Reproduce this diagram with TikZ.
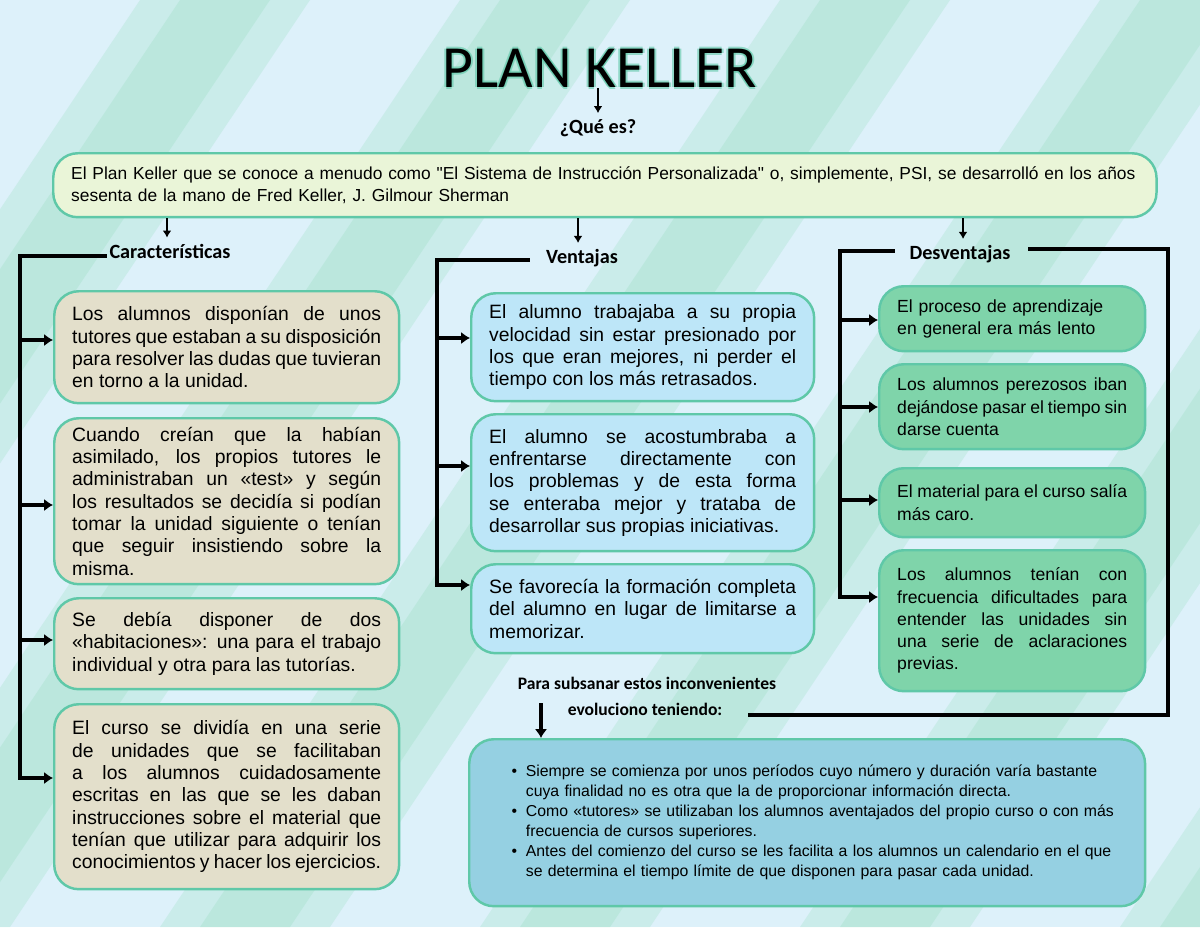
\documentclass[tikz,border=0pt]{standalone}
\usepackage{fontspec}
\usepackage{enumitem}
\setmainfont{Liberation Sans}
\newfontfamily\carlitofont{Carlito}
\usetikzlibrary{arrows.meta}
\definecolor{bgblue}{HTML}{DDF1FA}
\definecolor{bggreen}{HTML}{A9E3CF}
\definecolor{edge}{HTML}{5FC8A8}
\definecolor{mainf}{HTML}{EAF5D8}
\definecolor{leftf}{HTML}{E3DFCB}
\definecolor{midf}{HTML}{BDE6F8}
\definecolor{rightf}{HTML}{7FD4AA}
\definecolor{botf}{HTML}{95D0E2}
\hyphenpenalty=10000 \exhyphenpenalty=10000
\begin{document}
\begin{tikzpicture}[x=0.02cm,y=-0.02cm,
  card/.style={draw=edge,line width=1.4pt,rounded corners=14pt,anchor=north west,inner xsep=0.36cm,inner ysep=0.12cm,align=justify,font=\fontsize{9.6}{12.6}\selectfont},
  lcard/.style={card,fill=leftf,text width=6.18cm,font=\fontsize{11}{12.7}\selectfont},
  mcard/.style={card,fill=midf,text width=6.14cm,font=\fontsize{11}{12.7}\selectfont},
  rcard/.style={card,fill=rightf,text width=4.6cm,font=\fontsize{10}{12.7}\selectfont},
  head/.style={font=\carlitofont\fontsize{11.5}{13}\selectfont\bfseries},
  bar/.style={line width=2.6pt,line cap=rect},
  harrow/.style={line width=2.2pt,-{Latex[length=5pt,width=7pt]}},
  varrow/.style={line width=1.3pt,-{Latex[length=4pt,width=5pt]}}]
\useasboundingbox (0,0) rectangle (1200,927);
\fill[bgblue] (0,0) rectangle (1200,927);
\begin{scope}
\clip (0,0) rectangle (1200,927);
\foreach \s in {-500,-180,140,460,780,1100,1420,1740}{
  \fill[bggreen,opacity=0.35] (\s,0) -- (\s+170,0) -- (\s+170-620,927) -- (\s-620,927) -- cycle;
  \fill[bggreen,opacity=0.45] (\s+40,0) -- (\s+130,0) -- (\s+130-620,927) -- (\s+40-620,927) -- cycle;
}
\end{scope}
% title
\foreach \dx/\dy in {-2/0,2/0,0/-2,0/2}
  \node[text=edge,opacity=0.6,font=\carlitofont\fontsize{34}{36}\selectfont] at (600+\dx,68+\dy) {PLAN KELLER};
\node[font=\carlitofont\fontsize{34}{36}\selectfont] (title) at (600,68) {PLAN KELLER};
\node[head] (que) at (598,128) {¿Qué es?};
\draw[varrow] (598,88) -- (que.north);
% main box
\node[card,fill=mainf,text width=21.35cm,minimum height=1.28cm,align=left,font=\fontsize{9.9}{12.6}\selectfont] (main) at (52,152)
 {El Plan Keller que se conoce a menudo como \textquotedbl El Sistema de Instrucción Personalizada\textquotedbl{} o, simplemente, PSI, se desarrolló en los años sesenta de la mano de Fred Keller, J. Gilmour Sherman};
% headings
\node[head] (car) at (170,251) {Características};
\node[head] (ven) at (582,258) {Ventajas};
\node[head] (des) at (960,254) {Desventajas};
\draw[varrow] (main.south -| 167,0) -- (car.north -| 167,0);
\draw[varrow] (main.south -| 578,0) -- (ven.north -| 578,0);
\draw[varrow] (main.south -| 963,0) -- (des.north -| 963,0);
% left boxes
\node[lcard,minimum height=2.24cm] (l1) at (53,290) {Los alumnos disponían de unos tutores que estaban a su disposición para resolver las dudas que tuvieran en torno a la unidad.};
\node[lcard,minimum height=3.32cm] (l2) at (53,417) {Cuando creían que la habían asimilado, los propios tutores le administraban un «test» y según los resultados se decidía si podían tomar la unidad siguiente o tenían que seguir insistiendo sobre la misma.};
\node[lcard,minimum height=1.82cm] (l3) at (53,597) {Se debía disponer de dos «habitaciones»: una para el trabajo individual y otra para las tutorías.};
\node[lcard,minimum height=3.7cm] (l4) at (53,703) {El curso se dividía en una serie de unidades que se facilitaban a los alumnos cuidadosamente escritas en las que se les daban instrucciones sobre el material que tenían que utilizar para adquirir los conocimientos y hacer los ejercicios.};
\coordinate (lt) at (20,256);
\draw[bar] (105,256) -- (lt) -- (20,778);
\foreach \b/\y in {l1/340,l2/505,l3/640,l4/778}
  \draw[harrow] (20,\y) -- (\b.west |- 0,\y);
% middle boxes
\node[mcard,minimum height=2.16cm] (m1) at (470,292) {El alumno trabajaba a su propia velocidad sin estar presionado por los que eran mejores, ni perder el tiempo con los más retrasados.};
\node[mcard,minimum height=2.74cm] (m2) at (470,413) {El alumno se acostumbraba a enfrentarse directamente con los problemas y de esta forma se enteraba mejor y trataba de desarrollar sus propias iniciativas.};
\node[mcard,minimum height=1.78cm] (m3) at (470,563) {Se favorecía la formación completa del alumno en lugar de limitarse a memorizar.};
\coordinate (mt) at (437,260);
\draw[bar] (528,260) -- (mt) -- (437,585);
\foreach \b/\y in {m1/338,m2/466,m3/585}
  \draw[harrow] (437,\y) -- (\b.west |- 0,\y);
% right boxes
\node[rcard,minimum height=1.3cm,align=left] (r1) at (878,285) {El proceso de aprendizaje en general era más lento};
\node[rcard,minimum height=1.7cm] (r2) at (878,363) {Los alumnos perezosos iban dejándose pasar el tiempo sin darse cuenta};
\node[rcard,minimum height=1.38cm] (r3) at (878,467) {El material para el curso salía más caro.};
\node[rcard,minimum height=2.82cm] (r4) at (878,549) {Los alumnos tenían con frecuencia dificultades para entender las unidades sin una serie de aclaraciones previas.};
\coordinate (rt) at (840,251);
\draw[bar] (893,251) -- (rt) -- (840,597);
\foreach \b/\y in {r1/320,r2/407,r3/500,r4/597}
  \draw[harrow] (840,\y) -- (\b.west |- 0,\y);
% right return line
\node[font=\carlitofont\fontsize{10}{12}\selectfont\bfseries] (para) at (647,683) {Para subsanar estos inconvenientes};
\node[font=\carlitofont\fontsize{10}{12}\selectfont\bfseries] (evo) at (645,709) {evoluciono teniendo:};
\coordinate (rr) at (1168,715);
\draw[bar] (1030,249) -- (1168,249) -- (rr) -- (750,715);
% bottom box
\node[card,fill=botf,text width=12.8cm,minimum height=3.34cm,align=left,font=\fontsize{9}{11.4}\selectfont] (bot) at (468,738)
 {\begin{minipage}{12.8cm}\begin{itemize}[leftmargin=22pt,itemsep=0pt,parsep=0pt,topsep=0pt,label=\textbullet]
 \item Siempre se comienza por unos períodos cuyo número y duración varía bastante cuya finalidad no es otra que la de proporcionar información directa.
 \item Como «tutores» se utilizaban los alumnos aventajados del propio curso o con más frecuencia de cursos superiores.
 \item Antes del comienzo del curso se les facilita a los alumnos un calendario en el que se determina el tiempo límite de que disponen para pasar cada unidad.
 \end{itemize}\end{minipage}};
\draw[harrow] (541,703) -- (bot.north -| 541,0);
\end{tikzpicture}
\end{document}
